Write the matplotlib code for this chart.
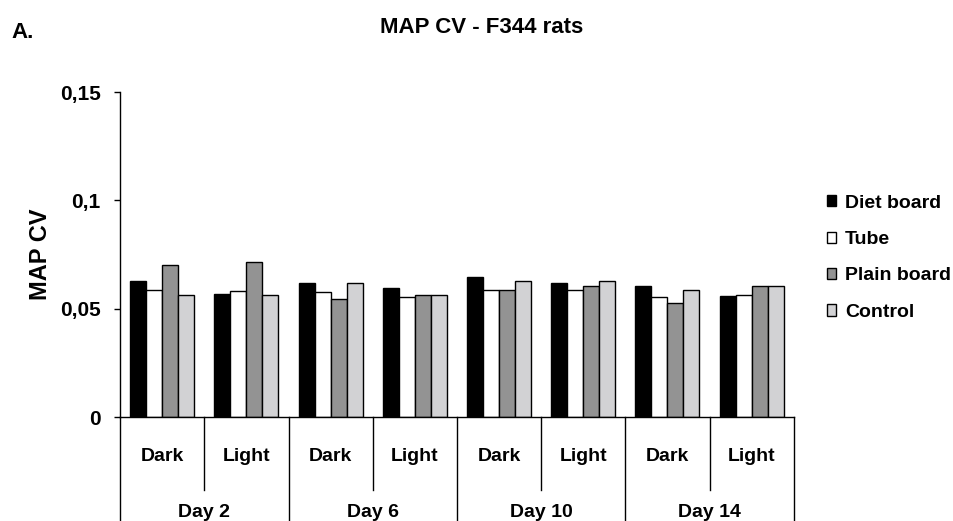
import matplotlib.pyplot as plt
import numpy as np

plt.rcParams['font.family'] = ['Liberation Sans', 'DejaVu Sans']

# datos
days = ['Day 2', 'Day 6', 'Day 10', 'Day 14']
phases = ['Dark', 'Light']
groups = ['Diet board', 'Tube', 'Plain board', 'Control']
diet_board = [0.0629, 0.0566, 0.0620, 0.0597, 0.0645, 0.0620, 0.0605, 0.0558]
tube = [0.0588, 0.0580, 0.0578, 0.0554, 0.0588, 0.0588, 0.0555, 0.0565]
plain_board = [0.0700, 0.0714, 0.0546, 0.0565, 0.0588, 0.0603, 0.0525, 0.0603]
control = [0.0565, 0.0565, 0.0618, 0.0565, 0.0626, 0.0626, 0.0586, 0.0603]
yticks = [0, 0.05, 0.1, 0.15]
ytick_labels = ['0', '0,05', '0,1', '0,15']

series = [diet_board, tube, plain_board, control]
colors = ['#000000', '#ffffff', '#939393', '#d2d2d4']

fig = plt.figure(figsize=(9.54, 5.21), dpi=100)
ax = fig.add_axes([0.126, 0.1996, 0.706, 0.6238])

x = np.arange(len(diet_board))
w = 0.19
for i, (vals, c, name) in enumerate(zip(series, colors, groups)):
    ax.bar(x + (i - 1.5) * w, vals, width=w, color=c, edgecolor='black', linewidth=1.0, label=name)

ax.set_xlim(-0.5, len(x) - 0.5)
ax.set_ylim(0, 0.15)
ax.set_yticks(yticks)
ax.set_yticklabels(ytick_labels, fontsize=15, fontweight='bold')
ax.tick_params(axis='y', length=4, width=1, pad=10)
ax.set_xticks([])
for s in ['top', 'right']:
    ax.spines[s].set_visible(False)
ax.spines['left'].set_linewidth(1)
ax.spines['bottom'].set_linewidth(1)

ax.set_ylabel('MAP CV', fontsize=17, fontweight='bold')
ax.yaxis.set_label_coords(-0.101, 0.5)

# etiquetas de categorias en dos niveles
trans = ax.get_xaxis_transform()
for k in range(len(x)):
    ax.text(x[k], -0.12, phases[k % 2], transform=trans, ha='center', va='center',
            fontsize=14, fontweight='bold')
for d, day in enumerate(days):
    ax.text(2 * d + 0.5, -0.295, day, transform=trans, ha='center', va='center',
            fontsize=14, fontweight='bold')
for k in range(len(x) + 1):
    xpos = k - 0.5
    y0 = -0.32 if k % 2 == 0 else -0.225
    ax.plot([xpos, xpos], [0, y0], transform=trans, color='black', linewidth=1, clip_on=False)

leg = ax.legend(loc='center left', bbox_to_anchor=(1.023, 0.49), frameon=False,
                prop={'size': 14, 'weight': 'bold'},
                handlelength=0.5, handleheight=0.5, handletextpad=0.45, labelspacing=1.0)

fig.text(0.505, 0.948, 'MAP CV - F344 rats', ha='center', va='center', fontsize=16, fontweight='bold')
fig.text(0.012, 0.937, 'A.', ha='left', va='center', fontsize=16, fontweight='bold')

fig.savefig('out.png', dpi=100)
